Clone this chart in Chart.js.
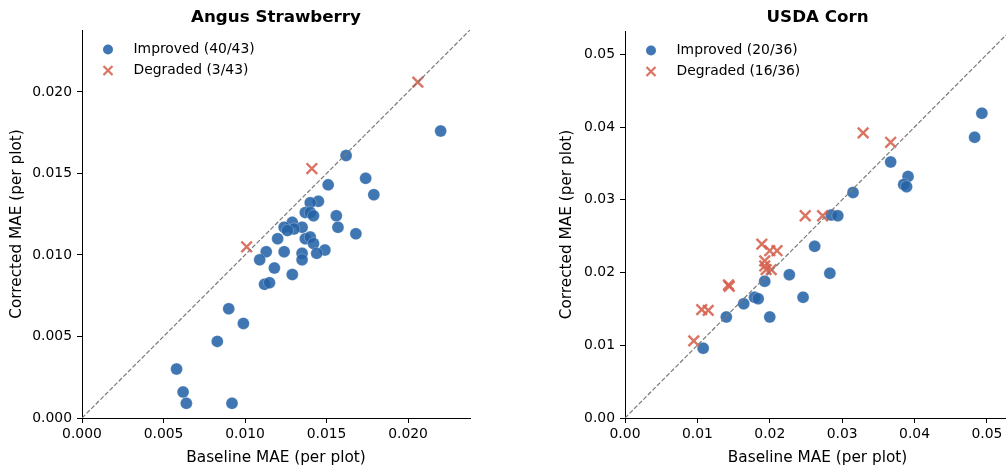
<!DOCTYPE html>
<html>
<head>
<meta charset="utf-8">
<title>Baseline vs Corrected MAE</title>
<script src="https://cdn.jsdelivr.net/npm/chart.js@4/dist/chart.umd.min.js"></script>
<style>
  html, body { margin: 0; padding: 0; background: #fff; overflow: hidden; }
  body { width: 1006px; height: 468px; position: relative; }
  canvas { position: absolute; top: 0; }
  #chartStraw { left: 0; }
  #chartCorn { left: 540px; }
</style>
</head>
<body>
<canvas id="chartStraw" width="500" height="468"></canvas>
<canvas id="chartCorn" width="480" height="468"></canvas>
<script>
/* ========================
   Dados
   ======================== */
// Angus Strawberry
const strawImprovedX = [0.0220, 0.0162, 0.0174, 0.0179, 0.0151, 0.0145, 0.0140, 0.0137, 0.0140, 0.0142,
                        0.0156, 0.0157, 0.0168, 0.0129, 0.0135, 0.0130, 0.0124, 0.0126, 0.0120, 0.0137,
                        0.0140, 0.0142, 0.0149, 0.0144, 0.0135, 0.0135, 0.0113, 0.0124, 0.0109, 0.0118,
                        0.0129, 0.0112, 0.0115, 0.0090, 0.0099, 0.0083, 0.0058, 0.0062, 0.0064, 0.0092];
const strawImprovedY = [0.0176, 0.0161, 0.0147, 0.0137, 0.0143, 0.0133, 0.0132, 0.0126, 0.0126, 0.0124,
                        0.0124, 0.0117, 0.0113, 0.0120, 0.0117, 0.0116, 0.0117, 0.0115, 0.0110, 0.0110,
                        0.0111, 0.0107, 0.0103, 0.0101, 0.0101, 0.0097, 0.0102, 0.0102, 0.0097, 0.0092,
                        0.0088, 0.0082, 0.0083, 0.0067, 0.0058, 0.0047, 0.0030, 0.0016, 0.0009, 0.0009];
const strawDegradedX = [0.0141, 0.0101, 0.0206];
const strawDegradedY = [0.0153, 0.0105, 0.0206];

// USDA Corn
const cornImprovedX = [0.0108, 0.0140, 0.0164, 0.0179, 0.0184, 0.0193, 0.0227, 0.0246, 0.0200, 0.0283,
                       0.0315, 0.0285, 0.0294, 0.0262, 0.0493, 0.0483, 0.0367, 0.0391, 0.0385, 0.0389];
const cornImprovedY = [0.0096, 0.0139, 0.0157, 0.0166, 0.0164, 0.0188, 0.0197, 0.0166, 0.0139, 0.0199,
                       0.0310, 0.0279, 0.0278, 0.0236, 0.0419, 0.0386, 0.0352, 0.0332, 0.0321, 0.0318];
const cornDegradedX = [0.0095, 0.0106, 0.0115, 0.0143, 0.0144, 0.0249, 0.0273, 0.0189, 0.0200, 0.0210,
                       0.0193, 0.0193, 0.0195, 0.0202, 0.0329, 0.0367];
const cornDegradedY = [0.0106, 0.0149, 0.0148, 0.0183, 0.0181, 0.0278, 0.0278, 0.0239, 0.0230, 0.0230,
                       0.0216, 0.0209, 0.0204, 0.0204, 0.0392, 0.0379];

// Eixos
const strawLimit = 0.0238;
const strawTicks = [0, 0.005, 0.010, 0.015, 0.020];
const cornLimit = 0.0532;
const cornTicks = [0, 0.01, 0.02, 0.03, 0.04, 0.05];

const xLabel = "Baseline MAE (per plot)";
const yLabel = "Corrected MAE (per plot)";

/* ========================
   Estilos
   ======================== */
const BLUE = "rgba(37, 99, 166, 0.88)";
const RED = "rgba(214, 96, 77, 0.88)";
const FONT = "'DejaVu Sans', sans-serif";

function toPoints(xs, ys) {
    return xs.map((x, i) => ({ x: x, y: ys[i] }));
}

// Título + legenda desenhados dentro da área do gráfico
function panelPlugin(title, labels) {
    return {
        id: "panel",
        afterDraw(chart) {
            const ctx = chart.ctx;
            const a = chart.chartArea;
            ctx.save();
            ctx.fillStyle = "#000";
            ctx.font = "bold 16.7px " + FONT;
            ctx.textAlign = "center";
            ctx.textBaseline = "alphabetic";
            ctx.fillText(title, (a.left + a.right) / 2, 21.7);

            ctx.font = "13.9px " + FONT;
            ctx.textAlign = "left";
            ctx.textBaseline = "middle";
            const mx = a.left + 26;
            const y1 = a.top + 19.5, y2 = a.top + 40.5;
            // circulo
            ctx.fillStyle = BLUE;
            ctx.beginPath();
            ctx.arc(mx, y1, 5, 0, Math.PI * 2);
            ctx.fill();
            // x
            ctx.strokeStyle = RED;
            ctx.lineWidth = 2.2;
            ctx.beginPath();
            ctx.moveTo(mx - 4.5, y2 - 4.5); ctx.lineTo(mx + 4.5, y2 + 4.5);
            ctx.moveTo(mx + 4.5, y2 - 4.5); ctx.lineTo(mx - 4.5, y2 + 4.5);
            ctx.stroke();
            ctx.fillStyle = "#000";
            ctx.fillText(labels[0], a.left + 51.5, y1);
            ctx.fillText(labels[1], a.left + 51.5, y2);
            ctx.restore();
        }
    };
}

function makeChart(id, cfg) {
    const tickFont = { family: FONT, size: 13.9 };
    const titleFont = { family: FONT, size: 15.3 };
    return new Chart(document.getElementById(id), {
        type: "scatter",
        data: {
            datasets: [
                {
                    // linha y = x
                    type: "line",
                    data: [{ x: 0, y: 0 }, { x: cfg.limit, y: cfg.limit }],
                    borderColor: "#7a7a7a",
                    borderWidth: 1.2,
                    borderDash: [4.5, 2],
                    pointRadius: 0,
                    fill: false,
                    order: 0
                },
                {
                    label: cfg.labels[1],
                    data: toPoints(cfg.degX, cfg.degY),
                    pointStyle: "crossRot",
                    pointRadius: 7.5,
                    pointHoverRadius: 7.5,
                    borderColor: RED,
                    pointBorderWidth: 2.4,
                    backgroundColor: RED,
                    order: 1
                },
                {
                    label: cfg.labels[0],
                    data: toPoints(cfg.impX, cfg.impY),
                    pointStyle: "circle",
                    pointRadius: 6,
                    pointHoverRadius: 6,
                    backgroundColor: BLUE,
                    borderColor: "rgba(255,255,255,0.5)",
                    pointBorderWidth: 0.5,
                    order: 2
                }
            ]
        },
        options: {
            responsive: false,
            animation: false,
            layout: { padding: { top: cfg.top, right: cfg.right, left: 0, bottom: 0 } },
            plugins: { legend: { display: false }, title: { display: false }, tooltip: { enabled: false } },
            scales: {
                x: {
                    type: "linear",
                    min: 0,
                    max: cfg.limit,
                    afterFit(scale) { scale.height = 50; },
                    afterBuildTicks(scale) { scale.ticks = cfg.ticks.map(v => ({ value: v })); },
                    ticks: {
                        color: "#000",
                        font: tickFont,
                        padding: 3,
                        maxRotation: 0,
                        callback: v => v.toFixed(cfg.digits)
                    },
                    grid: { drawOnChartArea: false, drawTicks: true, tickLength: 5, color: "#000" },
                    border: { display: true, color: "#000", width: 1 },
                    title: { display: true, text: xLabel, color: "#000", font: titleFont, padding: { top: 0, bottom: 0.8 } }
                },
                y: {
                    type: "linear",
                    min: 0,
                    max: cfg.limit,
                    afterFit(scale) { scale.width = cfg.yWidth; },
                    afterBuildTicks(scale) { scale.ticks = cfg.ticks.map(v => ({ value: v })); },
                    ticks: {
                        color: "#000",
                        font: tickFont,
                        padding: 5,
                        callback: v => v.toFixed(cfg.digits)
                    },
                    grid: { drawOnChartArea: false, drawTicks: true, tickLength: 5, color: "#000" },
                    border: { display: true, color: "#000", width: 1 },
                    title: { display: true, text: yLabel, color: "#000", font: titleFont, padding: { top: cfg.yTitlePad, bottom: 0 } }
                }
            }
        },
        plugins: [panelPlugin(cfg.title, cfg.labels)]
    });
}

/* ========================
   Gráficos
   ======================== */
makeChart("chartStraw", {
    title: "Angus Strawberry",
    labels: ["Improved (40/43)", "Degraded (3/43)"],
    impX: strawImprovedX, impY: strawImprovedY,
    degX: strawDegradedX, degY: strawDegradedY,
    limit: strawLimit, ticks: strawTicks, digits: 3,
    top: 30, right: 30, yWidth: 82, yTitlePad: 7.8
});

makeChart("chartCorn", {
    title: "USDA Corn",
    labels: ["Improved (20/36)", "Degraded (16/36)"],
    impX: cornImprovedX, impY: cornImprovedY,
    degX: cornDegradedX, degY: cornDegradedY,
    limit: cornLimit, ticks: cornTicks, digits: 2,
    top: 31, right: 8, yWidth: 85, yTitlePad: 17.5
});
</script>
</body>
</html>
